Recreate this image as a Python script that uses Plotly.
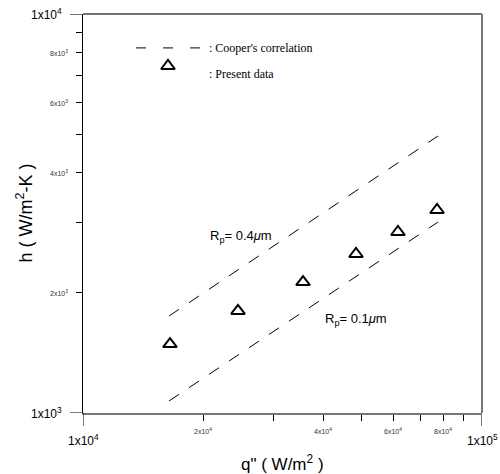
import math
import plotly.graph_objects as go

# Present data
q_data = [16520, 24460, 35600, 48330, 61570, 77150]
h_data = [1489, 1802, 2129, 2503, 2842, 3227]

# Cooper's correlation lines (endpoints)
q_cooper = [16430, 77580]
h_cooper_04 = [1750, 4946]
h_cooper_01 = [1072, 3010]

x_minor_ticks = [20000, 30000, 40000, 50000, 60000, 70000, 80000, 90000]
x_tick_labels = {20000: "2x10<sup>4</sup>", 40000: "4x10<sup>4</sup>",
                 60000: "6x10<sup>4</sup>", 80000: "8x10<sup>4</sup>"}
y_minor_ticks = [2000, 3000, 4000, 5000, 6000, 7000, 8000, 9000]
y_tick_labels = {2000: "2x10<sup>3</sup>", 4000: "4x10<sup>3</sup>",
                 6000: "6x10<sup>3</sup>", 8000: "8x10<sup>3</sup>"}

L = math.log10

fig = go.Figure()
dash = "12px,12px"
fig.add_trace(go.Scatter(x=q_cooper, y=h_cooper_04, mode="lines",
                         line=dict(color="black", width=1, dash=dash), showlegend=False))
fig.add_trace(go.Scatter(x=q_cooper, y=h_cooper_01, mode="lines",
                         line=dict(color="black", width=1, dash=dash), showlegend=False))
fig.add_trace(go.Scatter(x=q_data, y=h_data, mode="markers",
                         marker=dict(symbol="triangle-up-open", size=12, color="black",
                                     line=dict(width=2, color="black")),
                         showlegend=False))
# legend marker
fig.add_trace(go.Scatter(x=[16330], y=[7408], mode="markers",
                         marker=dict(symbol="triangle-up-open", size=12, color="black",
                                     line=dict(width=2, color="black")),
                         showlegend=False))

ann = []
small = dict(family="Arial", size=7, color="#333")
big = dict(family="Arial", size=12, color="black")
for v, t in x_tick_labels.items():
    ann.append(dict(x=L(v), y=0, xref="x", yref="paper", text=t, showarrow=False,
                    xanchor="center", yanchor="middle", yshift=-18, font=small))
for v, t in y_tick_labels.items():
    ann.append(dict(x=0, y=L(v), xref="paper", yref="y", text=t, showarrow=False,
                    xanchor="right", yanchor="middle", xshift=-13, font=small))
ann += [
    dict(x=4, y=0, xref="x", yref="paper", text="1x10<sup>4</sup>", showarrow=False,
         xanchor="center", yanchor="middle", yshift=-27, font=big),
    dict(x=5, y=0, xref="x", yref="paper", text="1x10<sup>5</sup>", showarrow=False,
         xanchor="center", yanchor="middle", yshift=-27, font=big),
    dict(x=0, y=3, xref="paper", yref="y", text="1x10<sup>3</sup>", showarrow=False,
         xanchor="right", yanchor="middle", xshift=-19, font=big),
    dict(x=0, y=4, xref="paper", yref="y", text="1x10<sup>4</sup>", showarrow=False,
         xanchor="right", yanchor="middle", xshift=-19, font=big),
    dict(x=L(20560), y=L(2777), xref="x", yref="y", text="R<sub>p</sub>= 0.4<i>μ</i>m",
         showarrow=False, xanchor="left", yanchor="middle", font=dict(family="Arial", size=13, color="black")),
    dict(x=L(39960), y=L(1711), xref="x", yref="y", text="R<sub>p</sub>= 0.1<i>μ</i>m",
         showarrow=False, xanchor="left", yanchor="middle", font=dict(family="Arial", size=13, color="black")),
    dict(x=0.311, y=0.915, xref="paper", yref="paper", text=": Cooper's correlation",
         showarrow=False, xanchor="left", yanchor="middle",
         font=dict(family="Liberation Serif", size=12, color="black")),
    dict(x=0.311, y=0.850, xref="paper", yref="paper", text=": Present data",
         showarrow=False, xanchor="left", yanchor="middle",
         font=dict(family="Liberation Serif", size=12, color="black")),
    # axis titles
    dict(x=0.5, y=0, xref="paper", yref="paper", text="q\" ( W/m<sup>2</sup> )", showarrow=False,
         xanchor="center", yanchor="middle", yshift=-50, font=dict(family="Arial", size=17, color="black")),
    dict(x=0, y=0.5, xref="paper", yref="paper", text="h ( W/m<sup>2</sup>-K )", showarrow=False,
         textangle=-90, xanchor="center", yanchor="middle", xshift=-58,
         font=dict(family="Arial", size=18, color="black")),
]

shapes = [
    # legend dashed sample
    dict(type="line", xref="paper", yref="paper", x0=0.133, x1=0.293, y0=0.915, y1=0.915,
         line=dict(color="black", width=1, dash="10px,17px")),
    # top frame
    dict(type="line", xref="paper", yref="paper", x0=0, x1=1, y0=1, y1=1,
         line=dict(color="#444", width=1.5)),
    # right frame
    dict(type="line", xref="paper", yref="paper", x0=1, x1=1, y0=0, y1=1,
         line=dict(color="#777", width=2)),
    # major ticks
    dict(type="line", xref="x", yref="paper", x0=1e4, x1=1e4, ysizemode="pixel", yanchor=0,
         y0=0, y1=-13, line=dict(color="black", width=1)),
    dict(type="line", xref="x", yref="paper", x0=1e5, x1=1e5, ysizemode="pixel", yanchor=0,
         y0=0, y1=-13, line=dict(color="#777", width=2)),
    dict(type="line", xref="paper", yref="y", y0=1e3, y1=1e3, xsizemode="pixel", xanchor=0,
         x0=0, x1=-13, line=dict(color="black", width=1)),
    dict(type="line", xref="paper", yref="y", y0=1e4, y1=1e4, xsizemode="pixel", xanchor=0,
         x0=0, x1=-13, line=dict(color="#444", width=1.5)),
]

fig.update_layout(
    width=500, height=474,
    margin=dict(l=83, r=18, t=14, b=61),
    paper_bgcolor="white", plot_bgcolor="white",
    showlegend=False,
    annotations=ann, shapes=shapes,
    xaxis=dict(type="log", range=[4, 5], showgrid=False, zeroline=False, automargin=False,
               showline=True, linecolor="#777", linewidth=2,
               tickmode="array", tickvals=x_minor_ticks, ticks="outside",
               ticklen=6, tickcolor="black", tickwidth=1, showticklabels=False),
    yaxis=dict(type="log", range=[3, 4], showgrid=False, zeroline=False, automargin=False,
               showline=True, linecolor="black", linewidth=1,
               tickmode="array", tickvals=y_minor_ticks, ticks="outside",
               ticklen=6, tickcolor="black", tickwidth=1, showticklabels=False),
)
fig.write_html("out.html", config={"displayModeBar": False},
               post_script="document.body.style.margin='0';document.body.style.overflow='hidden';")
